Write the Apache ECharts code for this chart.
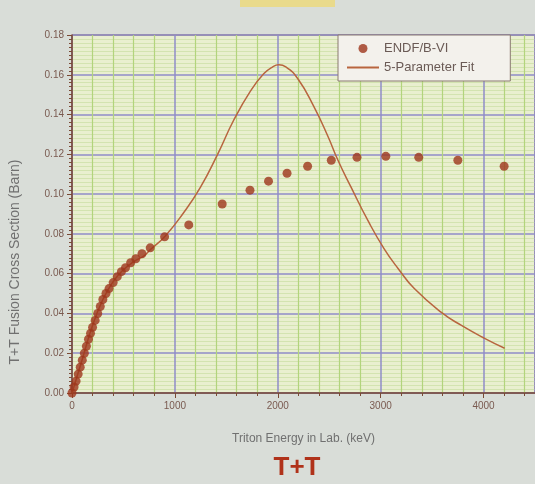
<!DOCTYPE html>
<html>
<head>
<meta charset="utf-8">
<script src="https://cdn.jsdelivr.net/npm/echarts@6/dist/echarts.min.js"></script>
<style>
  html, body { margin: 0; padding: 0; background: #d9ddd8; }
  #main { width: 535px; height: 484px; }
</style>
</head>
<body>
<div id="main"></div>
<script>
// ENDF/B-VI points (energy keV, cross section barn)
var endfEnergy = [0, 20, 40, 60, 80, 100, 120, 140, 160, 180, 200, 225, 250, 275, 300, 330, 360, 400, 440, 480, 520, 570, 620, 680, 760,
  900, 1135, 1460, 1730, 1910, 2090, 2290, 2520, 2770, 3050, 3370, 3750, 4200];
var endfSigma = [0, 0.003, 0.006, 0.0095, 0.013, 0.0165, 0.02, 0.0235, 0.027, 0.03, 0.033, 0.0365, 0.04, 0.0435, 0.047, 0.05, 0.0525, 0.0555, 0.0585, 0.061, 0.063, 0.0655, 0.0675, 0.07, 0.073,
  0.0785, 0.0845, 0.095, 0.102, 0.1065, 0.1105, 0.114, 0.117, 0.1185, 0.119, 0.1185, 0.117, 0.114];

// 5-parameter fit curve
var fitEnergy = [0, 100, 200, 300, 400, 500, 600, 700, 760, 907, 1083, 1249, 1415, 1570, 1737, 1863, 1951, 2010, 2078, 2195, 2351, 2488,
  2585, 2712, 2878, 3034, 3171, 3327, 3590, 3785, 4010, 4205];
var fitSigma = [0, 0.017, 0.034, 0.047, 0.056, 0.062, 0.066, 0.069, 0.072, 0.079, 0.0905, 0.1035, 0.12, 0.137, 0.152, 0.1605, 0.164, 0.165, 0.164, 0.158, 0.144, 0.129,
  0.117, 0.1035, 0.0865, 0.0725, 0.0625, 0.0525, 0.0405, 0.034, 0.0275, 0.0225];

var seriesNames = ['ENDF/B-VI', '5-Parameter Fit'];

function pairs(xs, ys) {
  return xs.map(function (x, i) { return [x, ys[i]]; });
}

var chart = echarts.init(document.getElementById('main'));

var option = {
  backgroundColor: '#d9ddd8',
  animation: false,
  textStyle: { fontFamily: 'Liberation Sans, Arial, sans-serif' },
  title: {
    text: 'T+T',
    left: 292,
    top: 450,
    textAlign: 'center',
    textStyle: { fontSize: 26, fontWeight: 'bold', color: '#b0321a' }
  },
  graphic: [
    { type: 'rect', left: 240, top: 0, shape: { width: 95, height: 7 }, style: { fill: '#e9da8c' }, z: -1 }
  ],
  legend: {
    orient: 'vertical',
    left: 338,
    top: 35,
    padding: [7, 36, 7, 8],
    itemGap: 6,
    itemWidth: 32,
    itemHeight: 9,
    backgroundColor: '#f3f1ec',
    borderColor: '#8a7a70',
    borderWidth: 1,
    textStyle: { fontSize: 13, color: '#6a5a55' },
    data: [
      { name: seriesNames[0], icon: 'circle' },
      { name: seriesNames[1], itemStyle: { opacity: 0 } }
    ]
  },
  grid: {
    left: 72,
    right: 0,
    top: 35,
    bottom: 91,
    show: true,
    backgroundColor: '#e9efcf',
    borderColor: '#7a4a35',
    borderWidth: 1
  },
  xAxis: {
    type: 'value',
    min: 0,
    max: 4500,
    interval: 1000,
    name: 'Triton Energy in Lab. (keV)',
    nameLocation: 'middle',
    nameGap: 40,
    nameTextStyle: { fontSize: 12, color: '#707070' },
    axisLine: { lineStyle: { color: '#7a4a35', width: 1.5 } },
    axisTick: { show: true, length: 5, lineStyle: { color: '#7a4a35' } },
    minorTick: { show: true, splitNumber: 5, length: 3, lineStyle: { color: '#7a4a35' } },
    axisLabel: {
      fontSize: 10,
      color: '#7a5a50',
      showMaxLabel: false,
      formatter: function (v) { return String(v); }
    },
    splitLine: { show: true, lineStyle: { color: '#8f8cc8', width: 1.5 } },
    minorSplitLine: { show: true, lineStyle: { color: '#b2d47c', width: 1.2 } }
  },
  yAxis: {
    type: 'value',
    min: 0,
    max: 0.18,
    interval: 0.02,
    name: 'T+T Fusion Cross Section (Barn)',
    nameLocation: 'middle',
    nameGap: 50,
    nameTextStyle: { fontSize: 14, color: '#707070', padding: [0, 96, 0, 0] },
    axisLine: { show: true, lineStyle: { color: '#7a4a35', width: 1.5 } },
    axisTick: { show: true, length: 5, lineStyle: { color: '#7a4a35' } },
    minorTick: { show: true, splitNumber: 10, length: 3, lineStyle: { color: '#7a4a35' } },
    axisLabel: {
      fontSize: 10,
      color: '#7a5a50',
      formatter: function (v) { return v.toFixed(2); }
    },
    splitLine: { show: true, lineStyle: { color: '#8f8cc8', width: 1.5 } },
    minorSplitLine: { show: true, lineStyle: { color: '#d3e3b0', width: 1 } }
  },
  series: [
    {
      name: seriesNames[0],
      type: 'scatter',
      symbol: 'circle',
      symbolSize: 9,
      itemStyle: { color: '#9e361c' },
      data: pairs(endfEnergy, endfSigma),
      z: 3
    },
    {
      name: seriesNames[1],
      type: 'line',
      smooth: true,
      symbol: 'none',
      lineStyle: { color: '#b8653f', width: 1.5 },
      itemStyle: { color: '#b8653f' },
      data: pairs(fitEnergy, fitSigma),
      z: 2
    }
  ]
};

chart.setOption(option);
</script>
</body>
</html>
